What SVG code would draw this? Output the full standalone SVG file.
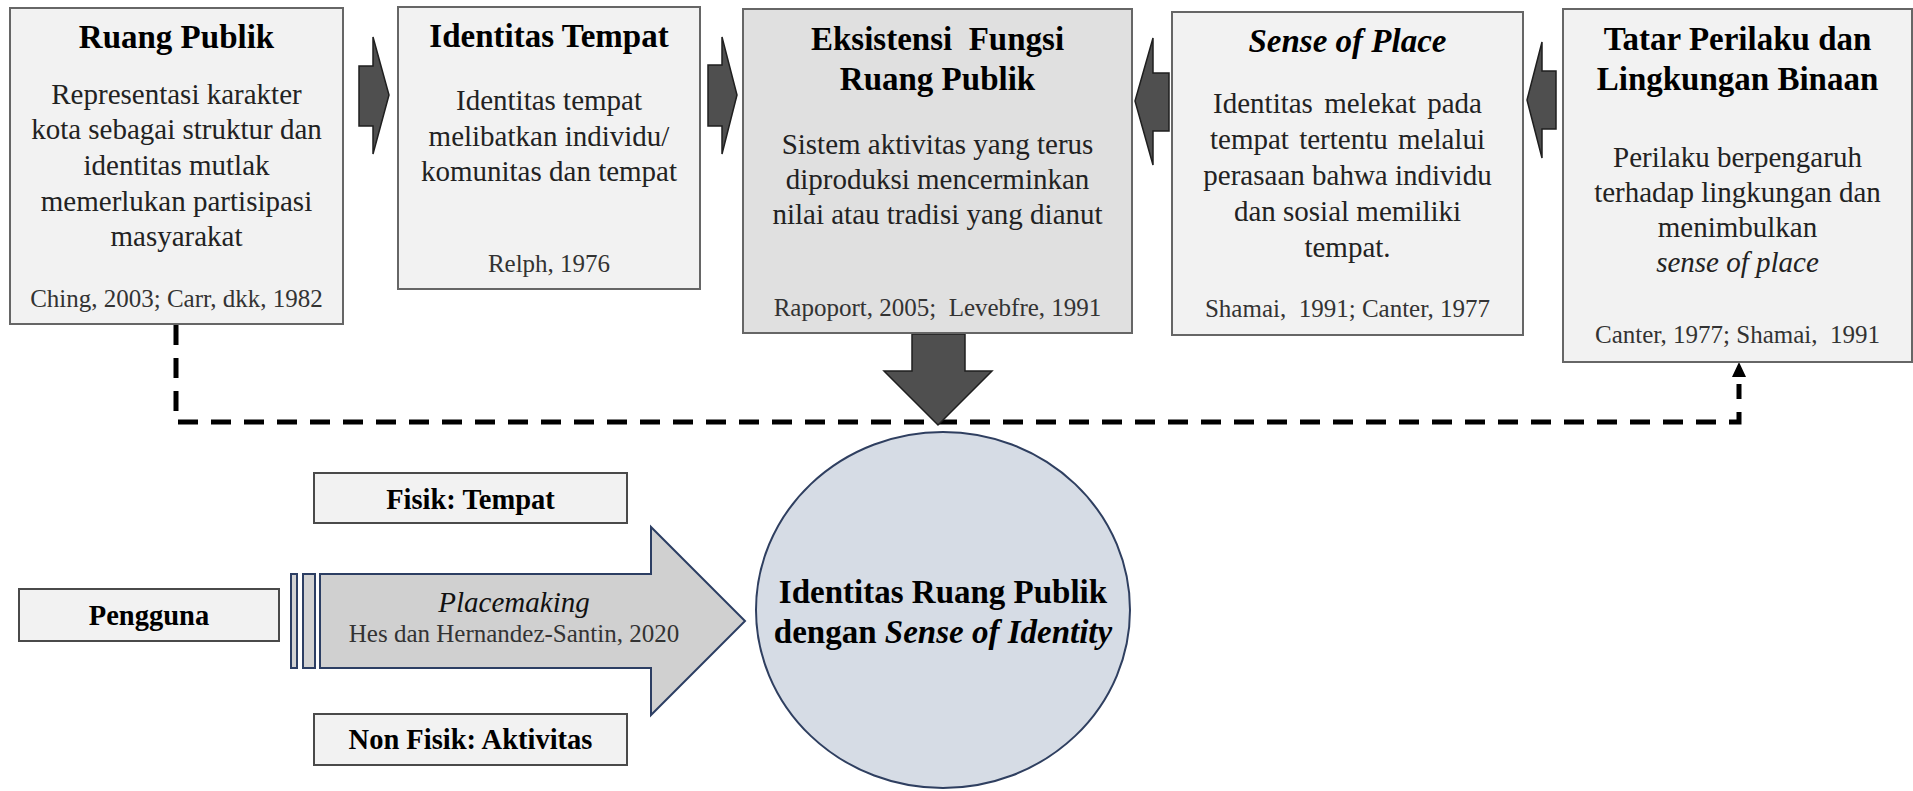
<svg xmlns="http://www.w3.org/2000/svg" width="1913" height="791" viewBox="0 0 1913 791">
  <defs>
    <style>
      .box { fill: #f2f2f2; stroke: #666666; stroke-width: 2; }
      .box-dark { fill: #e0e0e0; stroke: #666666; stroke-width: 2; }
      .tag { fill: #f2f2f2; stroke: #4a4a4a; stroke-width: 2; }
      .block-arrow { fill: #4f4f4f; stroke: #1f1f1f; stroke-width: 1.5; stroke-linejoin: miter; }
      .title { font-family: "Liberation Serif", "Times New Roman", serif; font-size: 33px; font-weight: bold; fill: #000000; text-anchor: middle; }
      .body { font-family: "Liberation Serif", "Times New Roman", serif; font-size: 29px; fill: #222222; text-anchor: middle; }
      .cite { font-family: "Liberation Serif", "Times New Roman", serif; font-size: 25px; fill: #333333; text-anchor: middle; }
      .tag-text { font-family: "Liberation Serif", "Times New Roman", serif; font-size: 28.5px; font-weight: bold; fill: #000000; text-anchor: middle; }
      .dash { fill: none; stroke: #000000; stroke-width: 5; stroke-dasharray: 20 13; }
      .it { font-style: italic; }
    </style>
    <marker id="arrowhead" viewBox="0 0 10 10" refX="5" refY="0" markerWidth="3" markerHeight="3" orient="auto-start-reverse" markerUnits="strokeWidth">
      <path d="M0,0 L10,5 L0,10 z" fill="#000000"/>
    </marker>
  </defs>

  <!-- connectors -->
  <g id="connectors">
    <!-- dashed feedback loop from Ruang Publik to Tatar Perilaku -->
    <path class="dash" d="M176,325 V422 H1739 V384"/>
    <path d="M1739,362 L1732,377 L1746,377 z" fill="#000000"/>
    <!-- block arrows between the top boxes -->
    <path class="block-arrow" d="M359,66 H373 V37 L389,95 L373,154 V126 H359 z"/>
    <path class="block-arrow" d="M708,65 H722 V37 L737,95 L722,154 V126 H708 z"/>
    <path class="block-arrow" d="M1169,73 H1153 V38 L1135,101 L1153,165 V131 H1169 z"/>
    <path class="block-arrow" d="M1556,71 H1542 V42 L1527,100 L1542,158 V129 H1556 z"/>
    <!-- downward arrow into the centre -->
    <path class="block-arrow" d="M912,334 H965 V371 H992 L938,425 L884,371 H912 z"/>
    <!-- placemaking arrow -->
    <rect x="291" y="574" width="6" height="94" fill="#d2d2d2" stroke="#2c3e63" stroke-width="2"/>
    <rect x="303" y="574" width="12" height="94" fill="#d2d2d2" stroke="#2c3e63" stroke-width="2"/>
    <path d="M320,574 H651 V527 L745,621 L651,715 V668 H320 z" fill="#d0d0d0" stroke="#2c3e63" stroke-width="2"/>
    <text class="body it" x="514" y="612" style="fill:#111111">Placemaking</text>
    <text class="cite" x="514" y="642">Hes dan Hernandez-Santin, 2020</text>
  </g>

  <!-- top row -->
  <g id="ruang-publik">
    <rect class="box" x="10" y="8" width="333" height="316"/>
    <text class="title" x="176.5" y="48">Ruang Publik</text>
    <text class="body" x="176.5" y="104">Representasi karakter</text>
    <text class="body" x="176.5" y="139">kota sebagai struktur dan</text>
    <text class="body" x="176.5" y="175">identitas mutlak</text>
    <text class="body" x="176.5" y="211">memerlukan partisipasi</text>
    <text class="body" x="176.5" y="246">masyarakat</text>
    <text class="cite" x="176.5" y="307">Ching, 2003; Carr, dkk, 1982</text>
  </g>

  <g id="identitas-tempat">
    <rect class="box" x="398" y="7" width="302" height="282"/>
    <text class="title" x="549" y="47">Identitas Tempat</text>
    <text class="body" x="549" y="110">Identitas tempat</text>
    <text class="body" x="549" y="146">melibatkan individu/</text>
    <text class="body" x="549" y="181">komunitas dan tempat</text>
    <text class="cite" x="549" y="272">Relph, 1976</text>
  </g>

  <g id="eksistensi-fungsi">
    <rect class="box-dark" x="743" y="9" width="389" height="324"/>
    <text class="title" x="937.5" y="50" xml:space="preserve">Eksistensi  Fungsi</text>
    <text class="title" x="937.5" y="90">Ruang Publik</text>
    <text class="body" x="937.5" y="154">Sistem aktivitas yang terus</text>
    <text class="body" x="937.5" y="189">diproduksi mencerminkan</text>
    <text class="body" x="937.5" y="224">nilai atau tradisi yang dianut</text>
    <text class="cite" x="937.5" y="316" xml:space="preserve">Rapoport, 2005;  Levebfre, 1991</text>
  </g>

  <g id="sense-of-place">
    <rect class="box" x="1172" y="12" width="351" height="323"/>
    <text class="title it" x="1347.5" y="52">Sense of Place</text>
    <text class="body" x="1347.5" y="113" word-spacing="4">Identitas melekat pada</text>
    <text class="body" x="1347.5" y="149" word-spacing="3">tempat tertentu melalui</text>
    <text class="body" x="1347.5" y="185">perasaan bahwa individu</text>
    <text class="body" x="1347.5" y="221">dan sosial memiliki</text>
    <text class="body" x="1347.5" y="257">tempat.</text>
    <text class="cite" x="1347.5" y="317" xml:space="preserve">Shamai,  1991; Canter, 1977</text>
  </g>

  <g id="tatar-perilaku">
    <rect class="box" x="1563" y="9" width="349" height="353"/>
    <text class="title" x="1737.5" y="50">Tatar Perilaku dan</text>
    <text class="title" x="1737.5" y="90">Lingkungan Binaan</text>
    <text class="body" x="1737.5" y="167">Perilaku berpengaruh</text>
    <text class="body" x="1737.5" y="202">terhadap lingkungan dan</text>
    <text class="body" x="1737.5" y="237">menimbulkan</text>
    <text class="body it" x="1737.5" y="272">sense of place</text>
    <text class="cite" x="1737.5" y="343" xml:space="preserve">Canter, 1977; Shamai,  1991</text>
  </g>

  <!-- bottom row -->
  <g id="fisik-tempat">
    <rect class="tag" x="314" y="473" width="313" height="50"/>
    <text class="tag-text" x="470.5" y="509">Fisik: Tempat</text>
  </g>

  <g id="pengguna">
    <rect class="tag" x="19" y="589" width="260" height="52"/>
    <text class="tag-text" x="149" y="625">Pengguna</text>
  </g>

  <g id="non-fisik-aktivitas">
    <rect class="tag" x="314" y="714" width="313" height="51"/>
    <text class="tag-text" x="470.5" y="749">Non Fisik: Aktivitas</text>
  </g>

  <g id="identitas-ruang-publik">
    <ellipse cx="943" cy="610" rx="187" ry="178" fill="#d6dce5" stroke="#2f3f60" stroke-width="2"/>
    <text class="title" x="943" y="603">Identitas Ruang Publik</text>
    <text class="title" x="943" y="643">dengan <tspan class="it">Sense of Identity</tspan></text>
  </g>
</svg>
